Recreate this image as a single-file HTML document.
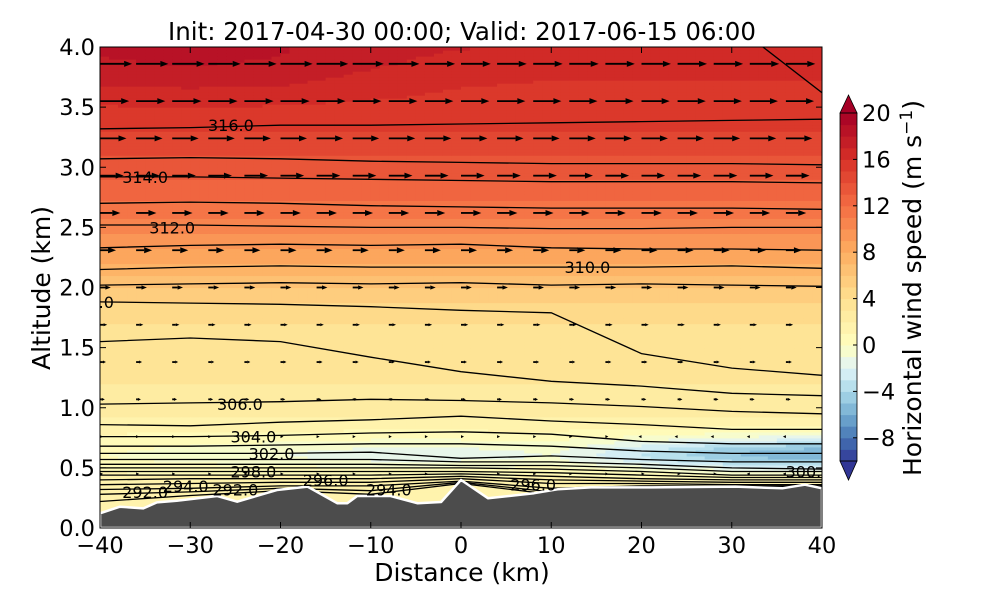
<!DOCTYPE html>
<html><head><meta charset="utf-8"><style>
body{margin:0;background:#fff;}
svg{display:block;font-family:"DejaVu Sans","Liberation Sans",sans-serif;}
</style></head><body>
<svg id="chart" width="1000" height="600" viewBox="0 0 1000 600" xmlns="http://www.w3.org/2000/svg">
<defs><clipPath id="plotclip"><rect x="100" y="47" width="722" height="481"/></clipPath></defs>
<g id="field" clip-path="url(#plotclip)"></g>
<g id="contours" clip-path="url(#plotclip)"></g>
<g id="arrows" clip-path="url(#plotclip)"></g>
<g id="terrain" clip-path="url(#plotclip)"></g>
<g id="clabels" clip-path="url(#plotclip)"></g>
<rect x="100" y="47" width="722" height="481" fill="none" stroke="#000" stroke-width="1"/>
<g id="axes"></g>
<text x="462" y="40" font-size="24.5" text-anchor="middle">Init: 2017-04-30 00:00; Valid: 2017-06-15 06:00</text>
<text x="462" y="581" font-size="25" text-anchor="middle">Distance (km)</text>
<text transform="translate(50,288) rotate(-90)" font-size="25" text-anchor="middle">Altitude (km)</text>
<g id="cbar"></g>
<text transform="translate(921,288) rotate(-90)" font-size="25" text-anchor="middle">Horizontal wind speed (m s<tspan dy="-9" font-size="17">−1</tspan><tspan dy="9">)</tspan></text>
</svg>
<script>
// ---- data ----
const xTicks = [-40,-30,-20,-10,0,10,20,30,40];
const yTicks = [0.0,0.5,1.0,1.5,2.0,2.5,3.0,3.5,4.0];
const cbarTicks = [-8,-4,0,4,8,12,16,20];
const profileAlt = [0.2,0.4,0.6,0.8,1.0,1.2,1.5,1.8,2.0,2.2,2.5,2.8,3.0,3.3,3.6,4.0];
const profileSpeed = [2,1.5,0.5,1.2,2.5,3,3.5,4.3,6,8,10.5,12.5,13.5,15,16,17.3];
const anomX = [-40,-30,-20,-10,0,10,20,30,40];
const lowAnom = [-0.5,-1,-1.5,-2,-2,-1.5,-3.5,-5.5,-6.5];
const topAnom = [1,1.2,1,0.3,-0.3,-0.5,-0.5,-0.5,-0.5];
const terrainX = [-40,-37.8,-35.2,-33.7,-31.5,-27,-24.8,-20.4,-17,-13.7,-12.6,-11.5,-7.8,-4.8,-2.2,0,3,8.1,10.7,14.4,21.1,30.4,35.6,38.1,40];
const terrainAlt = [0.122,0.177,0.163,0.213,0.227,0.266,0.219,0.316,0.344,0.205,0.205,0.266,0.266,0.205,0.216,0.40,0.247,0.289,0.322,0.338,0.338,0.344,0.33,0.36,0.33];
const thetaX = [-40,-30,-20,-10,0,10,20,30,40];
const thetaLevels = [317,316,315,314,313,312,311,310,309,308,307,306,305,304,303,302,301,300,299,298,297,296,295,294,293,292];
const thetaAlt = [
[4.3,4.3,4.3,4.3,4.3,4.3,4.3,4.2,3.62],
[3.32,3.33,3.35,3.35,3.36,3.37,3.38,3.39,3.40],
[3.07,3.08,3.07,3.05,3.04,3.03,3.03,3.03,3.02],
[2.92,2.92,2.91,2.90,2.89,2.88,2.88,2.88,2.87],
[2.70,2.71,2.70,2.68,2.67,2.66,2.66,2.66,2.65],
[2.52,2.52,2.51,2.50,2.50,2.49,2.49,2.50,2.50],
[2.33,2.35,2.36,2.35,2.36,2.33,2.32,2.32,2.31],
[2.15,2.17,2.18,2.17,2.17,2.17,2.17,2.18,2.16],
[2.02,2.03,2.04,2.03,2.04,2.02,2.03,2.02,2.01],
[1.88,1.87,1.86,1.84,1.81,1.79,1.45,1.33,1.27],
[1.55,1.58,1.55,1.42,1.30,1.22,1.18,1.12,1.10],
[1.03,1.04,1.05,1.07,1.06,1.04,1.01,0.97,0.95],
[0.86,0.85,0.88,0.90,0.93,0.89,0.86,0.82,0.82],
[0.76,0.76,0.77,0.79,0.80,0.78,0.72,0.70,0.70],
[0.68,0.68,0.69,0.70,0.70,0.68,0.64,0.62,0.62],
[0.62,0.62,0.62,0.63,0.58,0.60,0.57,0.55,0.55],
[0.57,0.57,0.57,0.57,0.55,0.55,0.53,0.50,0.49],
[0.53,0.53,0.53,0.53,0.52,0.52,0.50,0.47,0.47],
[0.50,0.50,0.50,0.50,0.50,0.49,0.47,0.44,0.44],
[0.47,0.47,0.47,0.47,0.47,0.46,0.44,0.42,0.42],
[0.44,0.44,0.44,0.44,0.45,0.43,0.41,0.40,0.40],
[0.40,0.41,0.41,0.41,0.43,0.40,0.39,0.38,0.38],
[0.36,0.37,0.38,0.38,0.41,0.37,0.37,0.36,0.36],
[0.32,0.33,0.35,0.35,0.39,0.33,0.35,0.35,0.35],
[0.28,0.30,0.33,0.31,0.38,0.30,0.34,0.34,0.34],
[0.22,0.27,0.31,0.28,0.37,0.28,0.33,0.33,0.33]];
const labelText = ["316.0","314.0","312.0","310.0","308.0","306.0","304.0","302.0","300.0","298.0","296.0","296.0","294.0","294.0","292.0","292.0"];
const labelX = [-25.5,-35,-32,14,-41,-24.5,-23,-21,38.5,-23,-15,8,-30.5,-8,-35,-25];
const labelAlt = [3.35,2.92,2.5,2.17,1.88,1.03,0.76,0.62,0.47,0.47,0.40,0.36,0.35,0.32,0.30,0.32];

// ---- scales ----
const X0=100,X1=822,Y0=528,Y1=47;
const sx = v => X0 + (v+40)/80*(X1-X0);
const sy = a => Y0 - a/4*(Y0-Y1);
const CB0=113,CB1=461;
const cy = v => CB1 - (v+10)/30*(CB1-CB0);
const NS="http://www.w3.org/2000/svg";
function mk(tag, attrs, parent){const e=document.createElementNS(NS,tag);for(const k in attrs)e.setAttribute(k,attrs[k]);parent.appendChild(e);return e;}
function interp(xs,ys,x){if(x<=xs[0])return ys[0];for(let i=1;i<xs.length;i++){if(x<=xs[i]){const t=(x-xs[i-1])/(xs[i]-xs[i-1]);return ys[i-1]+t*(ys[i]-ys[i-1]);}}return ys[ys.length-1];}
const anchors=[[-10,[49,54,149]],[-8,[69,117,180]],[-6,[116,173,209]],[-4,[171,217,233]],[-2,[224,243,248]],[0,[255,255,191]],[4,[254,224,144]],[8,[253,174,97]],[12,[244,109,67]],[16,[215,48,39]],[20,[165,0,38]]];
function cmap(v){v=Math.max(-10,Math.min(20,v));for(let i=1;i<anchors.length;i++){if(v<=anchors[i][0]){const a=anchors[i-1],b=anchors[i];const t=(v-a[0])/(b[0]-a[0]);const c=a[1].map((q,j)=>Math.round(q+t*(b[1][j]-q)));return `rgb(${c[0]},${c[1]},${c[2]})`;}}return 'rgb(165,0,38)';}
function bandColor(v){const b=Math.floor(v);return cmap(Math.max(-10,Math.min(19,b))+0.5);}
function speed(x,a){let s=interp(profileAlt,profileSpeed,a);
  s+=interp(anomX,lowAnom,x)*Math.exp(-Math.pow((a-0.62)/0.14,2));
  s+=interp(anomX,topAnom,x)*Math.exp(-Math.pow((a-3.85)/0.3,2));return s;}

// ---- field ----
const field=document.getElementById('field');
const dx=1, da=0.025;
for(let x=-40;x<40;x+=dx){for(let a=0;a<4;a+=da){
  const r=mk('rect',{x:sx(x).toFixed(2),y:sy(a+da).toFixed(2),width:(sx(x+dx)-sx(x)+0.6).toFixed(2),height:(sy(a)-sy(a+da)+0.6).toFixed(2),fill:bandColor(speed(x+dx/2,a+da/2))},field);
  
  
}}

// ---- contours ----
const cont=document.getElementById('contours');
thetaLevels.forEach((lev,i)=>{
  const pts=thetaX.map((x,j)=>sx(x).toFixed(1)+','+sy(thetaAlt[i][j]).toFixed(1)).join(' ');
  const p=mk('polyline',{points:pts,fill:'none',stroke:'#000','stroke-width':1.3},cont);
  
  
});

// ---- arrows ----
const arr=document.getElementById('arrows');
for(let a=3.86;a>0.3;a-=0.31){
  for(let x=-40;x<40;x+=4){
    if(a<interp(terrainX,terrainAlt,x)+0.08)continue;
    const s=speed(x,a);const L=s*1.8;const x0=sx(x),y0=sy(a);
    const dir=L>=0?1:-1;const al=Math.abs(L);
    const hl=Math.min(8,Math.max(3,al*0.5)),hw=Math.min(3,Math.max(1.5,al*0.2));
    const g=mk('g',{},arr);
    
    
    const tip=x0+dir*Math.max(al,3);
    if(al>hl)mk('line',{x1:x0,y1:y0,x2:tip-dir*hl,y2:y0,stroke:'#000','stroke-width':1.8},g);
    mk('polygon',{points:`${tip},${y0} ${tip-dir*hl},${y0-hw} ${tip-dir*hl},${y0+hw}`,fill:'#000'},g);
  }
}

// ---- terrain ----
const ter=document.getElementById('terrain');
let tp=`M${sx(-40)},${sy(0)} `+terrainX.map((x,i)=>`L${sx(x).toFixed(1)},${sy(terrainAlt[i]).toFixed(1)}`).join(' ')+` L${sx(40)},${sy(0)} Z`;
const tpath=mk('path',{d:tp,fill:'#4c4c4c',stroke:'#fff','stroke-width':2.5,'stroke-linejoin':'round'},ter);



// ---- contour labels ----
const cl=document.getElementById('clabels');
labelText.forEach((t,i)=>{
  const e=mk('text',{x:sx(labelX[i]).toFixed(1),y:(sy(labelAlt[i])+6).toFixed(1),'font-size':16,'text-anchor':'middle',fill:'#000'},cl);
  e.textContent=t;
  
  
});

// ---- axes ----
const ax=document.getElementById('axes');
xTicks.forEach(v=>{const X=sx(v);
  mk('line',{x1:X,y1:Y0,x2:X,y2:Y0-6,stroke:'#000'},ax);mk('line',{x1:X,y1:Y1,x2:X,y2:Y1+6,stroke:'#000'},ax);
  const t=mk('text',{x:X,y:Y0+25,'font-size':22.5,'text-anchor':'middle'},ax);t.textContent=(v<0?'−':'')+Math.abs(v);
  
  
});
yTicks.forEach(v=>{const Y=sy(v);
  mk('line',{x1:X0,y1:Y,x2:X0+6,y2:Y,stroke:'#000'},ax);mk('line',{x1:X1,y1:Y,x2:X1-6,y2:Y,stroke:'#000'},ax);
  const t=mk('text',{x:X0-5,y:Y+8,'font-size':22.5,'text-anchor':'end'},ax);t.textContent=v.toFixed(1);
  
  
});

// ---- colorbar ----
const cb=document.getElementById('cbar');
const CX=840,CW=17;
for(let v=-10;v<20;v++){
  const r=mk('rect',{x:CX,y:cy(v+1),width:CW,height:cy(v)-cy(v+1)+0.5,fill:cmap(v+0.5)},cb);
  
  
}
mk('polygon',{points:`${CX},${CB0} ${CX+CW/2},95 ${CX+CW},${CB0}`,fill:'rgb(165,0,38)',stroke:'#000','stroke-width':0.8},cb);
mk('polygon',{points:`${CX},${CB1} ${CX+CW/2},480 ${CX+CW},${CB1}`,fill:'rgb(49,54,149)',stroke:'#000','stroke-width':0.8},cb);
mk('rect',{x:CX,y:CB0,width:CW,height:CB1-CB0,fill:'none',stroke:'#000','stroke-width':0.8},cb);
cbarTicks.forEach(v=>{const Y=cy(v);
  mk('line',{x1:CX+CW-4,y1:Y,x2:CX+CW,y2:Y,stroke:'#000'},cb);
  const t=mk('text',{x:CX+CW+5,y:Y+8,'font-size':22.5},cb);t.textContent=(v<0?'−':'')+Math.abs(v);
  
  
});
</script>
</body></html>
